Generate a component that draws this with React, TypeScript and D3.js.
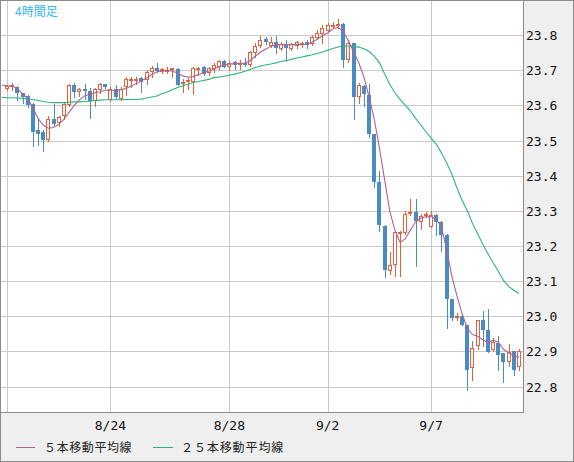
import * as d3 from 'd3';

// 4-hour candles, oldest first
const opens = [
  23.647, 23.654, 23.653, 23.634, 23.626, 23.605, 23.529, 23.524, 23.501, 23.562,
  23.55, 23.569, 23.602, 23.659, 23.637, 23.647, 23.64, 23.612, 23.645, 23.662,
  23.616, 23.648, 23.619, 23.651, 23.672, 23.672, 23.677, 23.672, 23.696, 23.706,
  23.696, 23.7, 23.701, 23.703, 23.662, 23.667, 23.667, 23.703, 23.709, 23.691,
  23.703, 23.708, 23.727, 23.708, 23.724, 23.714, 23.721, 23.714, 23.748, 23.769,
  23.788, 23.769, 23.781, 23.76, 23.776, 23.76, 23.77, 23.776, 23.781, 23.776,
  23.792, 23.803, 23.812, 23.826, 23.83, 23.833, 23.729, 23.779, 23.624, 23.655,
  23.631, 23.518, 23.383, 23.258, 23.128, 23.145, 23.238, 23.237, 23.29, 23.297,
  23.269, 23.285, 23.254, 23.289, 23.269, 23.23, 23.049, 22.995, 23.002, 22.976,
  22.853, 22.914, 22.988, 22.962, 22.903, 22.924, 22.894, 22.869, 22.9, 22.856,
];
const highs = [
  23.659, 23.664, 23.655, 23.636, 23.629, 23.607, 23.562, 23.531, 23.569, 23.603,
  23.571, 23.607, 23.662, 23.664, 23.649, 23.662, 23.65, 23.65, 23.664, 23.662,
  23.651, 23.658, 23.653, 23.682, 23.68, 23.682, 23.682, 23.701, 23.712, 23.722,
  23.706, 23.709, 23.706, 23.706, 23.674, 23.677, 23.709, 23.709, 23.711, 23.709,
  23.72, 23.73, 23.73, 23.727, 23.727, 23.729, 23.736, 23.755, 23.778, 23.797,
  23.795, 23.795, 23.797, 23.781, 23.786, 23.778, 23.784, 23.781, 23.786, 23.8,
  23.814, 23.828, 23.835, 23.838, 23.847, 23.835, 23.784, 23.779, 23.663, 23.658,
  23.661, 23.52, 23.414, 23.26, 23.182, 23.242, 23.242, 23.299, 23.334, 23.334,
  23.29, 23.296, 23.299, 23.292, 23.27, 23.233, 23.049, 23.008, 23.005, 22.976,
  22.929, 22.99, 23.014, 23.021, 22.938, 22.943, 22.895, 22.922, 22.902, 22.907,
];
const lows = [
  23.643, 23.643, 23.615, 23.607, 23.595, 23.484, 23.486, 23.47, 23.498, 23.545,
  23.541, 23.56, 23.598, 23.624, 23.626, 23.617, 23.565, 23.598, 23.636, 23.65,
  23.613, 23.62, 23.614, 23.629, 23.653, 23.662, 23.638, 23.662, 23.682, 23.696,
  23.691, 23.693, 23.682, 23.658, 23.638, 23.648, 23.632, 23.687, 23.686, 23.686,
  23.696, 23.702, 23.708, 23.7, 23.705, 23.705, 23.711, 23.711, 23.738, 23.765,
  23.776, 23.765, 23.748, 23.757, 23.727, 23.757, 23.762, 23.767, 23.762, 23.771,
  23.788, 23.778, 23.808, 23.819, 23.819, 23.71, 23.724, 23.56, 23.607, 23.599,
  23.509, 23.368, 23.242, 23.112, 23.119, 23.114, 23.114, 23.233, 23.287, 23.144,
  23.249, 23.282, 23.254, 23.23, 23.185, 22.967, 22.988, 22.988, 22.974, 22.791,
  22.818, 22.907, 22.914, 22.897, 22.9, 22.848, 22.812, 22.857, 22.834, 22.846,
];
const closes = [
  23.655, 23.659, 23.634, 23.623, 23.602, 23.524, 23.52, 23.501, 23.562, 23.548,
  23.567, 23.605, 23.659, 23.637, 23.647, 23.64, 23.612, 23.647, 23.662, 23.652,
  23.648, 23.624, 23.648, 23.674, 23.674, 23.676, 23.667, 23.696, 23.706, 23.699,
  23.703, 23.702, 23.706, 23.658, 23.667, 23.672, 23.706, 23.706, 23.689, 23.706,
  23.715, 23.727, 23.71, 23.722, 23.714, 23.722, 23.714, 23.752, 23.769, 23.786,
  23.78, 23.781, 23.762, 23.776, 23.762, 23.776, 23.781, 23.779, 23.773, 23.795,
  23.807, 23.819, 23.828, 23.829, 23.832, 23.729, 23.778, 23.624, 23.658, 23.632,
  23.52, 23.383, 23.259, 23.131, 23.147, 23.239, 23.24, 23.29, 23.297, 23.271,
  23.285, 23.291, 23.289, 23.269, 23.23, 23.049, 22.995, 23.002, 22.976, 22.848,
  22.91, 22.988, 22.962, 22.897, 22.926, 22.891, 22.869, 22.897, 22.848, 22.902,
];

// moving averages as drawn on the reference; the first value belongs to the
// candle just left of the visible window, so the lines reach the left edge
const ma5 = [
  23.658,
  23.656, 23.655, 23.648, 23.633, 23.62, 23.594, 23.563, 23.544, 23.535, 23.537,
  23.546, 23.56, 23.58, 23.6, 23.616, 23.627, 23.632, 23.636, 23.639, 23.643,
  23.644, 23.642, 23.645, 23.648, 23.655, 23.662, 23.67, 23.678, 23.688, 23.696,
  23.699, 23.7, 23.697, 23.692, 23.684, 23.68, 23.682, 23.688, 23.693, 23.698,
  23.703, 23.71, 23.715, 23.717, 23.719, 23.72, 23.72, 23.728, 23.74, 23.752,
  23.76, 23.768, 23.773, 23.773, 23.773, 23.773, 23.773, 23.773, 23.774, 23.78,
  23.788, 23.798, 23.806, 23.818, 23.822, 23.81, 23.785, 23.753, 23.722, 23.681,
  23.625, 23.562, 23.48, 23.39, 23.3, 23.245, 23.21, 23.22, 23.245, 23.268,
  23.279, 23.283, 23.284, 23.276, 23.255, 23.19, 23.115, 23.058, 23.007, 22.965,
  22.948, 22.943, 22.933, 22.925, 22.932, 22.926, 22.906, 22.896, 22.888, 22.883,
];
const ma25 = [
  23.623,
  23.622, 23.622, 23.621, 23.62, 23.619, 23.617, 23.614, 23.611, 23.609, 23.608,
  23.608, 23.608, 23.609, 23.61, 23.61, 23.611, 23.612, 23.614, 23.615, 23.616,
  23.616, 23.616, 23.616, 23.617, 23.617, 23.617, 23.618, 23.621, 23.624, 23.627,
  23.634, 23.638, 23.645, 23.651, 23.656, 23.66, 23.665, 23.668, 23.671, 23.674,
  23.679, 23.681, 23.683, 23.686, 23.689, 23.693, 23.697, 23.702, 23.708, 23.712,
  23.715, 23.718, 23.721, 23.725, 23.728, 23.731, 23.735, 23.738, 23.741, 23.744,
  23.748, 23.752, 23.757, 23.762, 23.766, 23.769, 23.769, 23.768, 23.766, 23.761,
  23.754, 23.74, 23.722, 23.69, 23.66, 23.636, 23.617, 23.601, 23.584, 23.563,
  23.545, 23.525, 23.507, 23.49, 23.465, 23.437, 23.405, 23.365, 23.33, 23.3,
  23.265, 23.235, 23.205, 23.178, 23.152, 23.128, 23.102, 23.085, 23.074, 23.065,
];

// candle index of each date gridline (first one has no label)
const dateTickIndex = [0, 20, 43, 62, 82];
const dateTickLabels = ['', '8/24', '8/28', '9/2', '9/7'];
const priceTicks = [22.8, 22.9, 23.0, 23.1, 23.2, 23.3, 23.4, 23.5, 23.6, 23.7, 23.8];

const W = 574;
const H = 462;
const plot = { left: 1, top: 1, right: 523, bottom: 412 };

const UP = '#e0623c';
const DOWN = '#4b8bc4';
const MA5_COLOR = '#b3608e';
const MA25_COLOR = '#2bb57c';
const GRID = '#c9c9c9';
const MONO = '"DejaVu Sans Mono", monospace';
const JP = '"Noto Sans CJK JP", sans-serif';

export default function App() {
  const x = d3.scaleLinear().domain([0, opens.length - 1]).range([7, 519]);
  const y = d3.scaleLinear().domain([22.7275, 23.9]).range([plot.bottom, 0]);
  // MA arrays start one candle before the first visible candle
  const maLine = d3.line<number>()
    .x((_, i) => x(i - 1))
    .y((v) => y(v));

  return (
    <>
      <style>{'body{margin:0}'}</style>
      <svg width={W} height={H} style={{ display: 'block' }}>
        <defs>
          <clipPath id="plot-clip">
            <rect x={plot.left} y={plot.top} width={plot.right - plot.left} height={plot.bottom - plot.top} />
          </clipPath>
        </defs>
        <rect x={0.5} y={0.5} width={W - 1} height={H - 1} fill="#efefef" stroke="#8c8c8c" />
        <rect x={plot.left} y={plot.top} width={plot.right - plot.left} height={plot.bottom - plot.top} fill="#fff" />

        <g shapeRendering="crispEdges">
          {priceTicks.map((t) => (
            <line key={t} x1={plot.left} x2={plot.right} y1={Math.round(y(t)) + 0.5} y2={Math.round(y(t)) + 0.5} stroke={GRID} />
          ))}
          {dateTickIndex.map((t) => (
            <line key={t} x1={Math.round(x(t)) + 0.5} x2={Math.round(x(t)) + 0.5} y1={plot.top} y2={plot.bottom} stroke={GRID} />
          ))}
        </g>

        <g clipPath="url(#plot-clip)" shapeRendering="crispEdges">
          {opens.map((o, i) => {
            const c = closes[i];
            const cx = Math.round(x(i));
            const top = Math.round(y(Math.max(o, c)));
            const bot = Math.max(Math.round(y(Math.min(o, c))), top + 2);
            const hi = Math.round(y(highs[i]));
            const lo = Math.round(y(lows[i]));
            const up = c >= o;
            const color = up ? UP : DOWN;
            return (
              <g key={i}>
                <line x1={cx + 0.5} x2={cx + 0.5} y1={hi} y2={lo + 1} stroke={color} />
                {up ? (
                  <rect x={cx - 1.5} y={top + 0.5} width={3} height={bot - top - 1} fill="#fff" stroke={color} />
                ) : (
                  <rect x={cx - 2} y={top} width={4} height={bot - top} fill={color} />
                )}
              </g>
            );
          })}
        </g>

        <g clipPath="url(#plot-clip)" fill="none">
          <path d={maLine(ma25) ?? undefined} stroke={MA25_COLOR} strokeWidth={1.1} />
          <path d={maLine(ma5) ?? undefined} stroke={MA5_COLOR} strokeWidth={1.1} />
        </g>

        <g shapeRendering="crispEdges" stroke="#8c8c8c">
          <line x1={plot.right + 0.5} x2={plot.right + 0.5} y1={0} y2={plot.bottom + 1} />
          <line x1={0} x2={plot.right + 1} y1={plot.bottom + 0.5} y2={plot.bottom + 0.5} />
        </g>

        {priceTicks.map((t) => (
          <text key={t} x={plot.right + 3} y={y(t) + 5} fontFamily={MONO} fontSize={13} fill="#111">
            {t.toFixed(1)}
          </text>
        ))}
        {dateTickIndex.map((t, i) => (
          <text key={t} x={x(t)} y={430} textAnchor="middle" fontFamily={MONO} fontSize={13} fill="#111">
            {dateTickLabels[i]}
          </text>
        ))}

        <text x={15} y={16} fontFamily={JP} fontSize={12} fill="#35b6ec">4時間足</text>

        <line x1={16} x2={35} y1={447.5} y2={447.5} stroke={MA5_COLOR} shapeRendering="crispEdges" />
        <text x={44} y={452} fontFamily={JP} fontSize={12} letterSpacing={0.6} fill="#222">５本移動平均線</text>
        <line x1={153} x2={173} y1={447.5} y2={447.5} stroke={MA25_COLOR} shapeRendering="crispEdges" />
        <text x={181} y={452} fontFamily={JP} fontSize={12} letterSpacing={0.9} fill="#222">２５本移動平均線</text>
      </svg>
    </>
  );
}
